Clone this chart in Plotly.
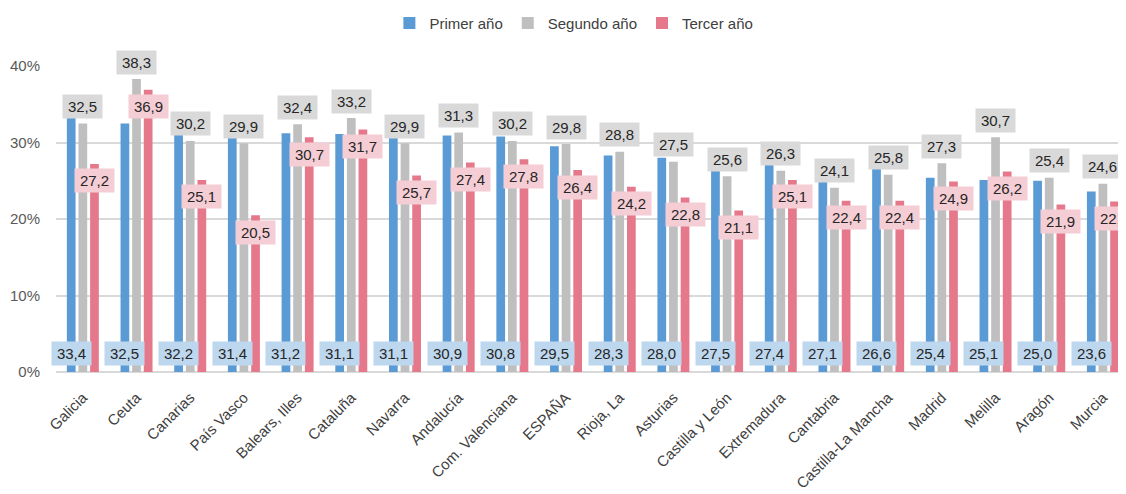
import plotly.graph_objects as go

categories = ["Galicia", "Ceuta", "Canarias", "País Vasco", "Balears, Illes", "Cataluña",
              "Navarra", "Andalucía", "Com. Valenciana", "ESPAÑA", "Rioja, La", "Asturias",
              "Castilla y León", "Extremadura", "Cantabria", "Castilla-La Mancha", "Madrid",
              "Melilla", "Aragón", "Murcia"]
primer = [33.4, 32.5, 32.2, 31.4, 31.2, 31.1, 31.1, 30.9, 30.8, 29.5,
          28.3, 28.0, 27.5, 27.4, 27.1, 26.6, 25.4, 25.1, 25.0, 23.6]
segundo = [32.5, 38.3, 30.2, 29.9, 32.4, 33.2, 29.9, 31.3, 30.2, 29.8,
           28.8, 27.5, 25.6, 26.3, 24.1, 25.8, 27.3, 30.7, 25.4, 24.6]
tercer = [27.2, 36.9, 25.1, 20.5, 30.7, 31.7, 25.7, 27.4, 27.8, 26.4,
          24.2, 22.8, 21.1, 25.1, 22.4, 22.4, 24.9, 26.2, 21.9, 22.3]
series_names = ["Primer año", "Segundo año", "Tercer año"]
y_ticks = [0, 10, 20, 30, 40]
y_tick_labels = ["0%", "10%", "20%", "30%", "40%"]

BLUE, GREY, PINK = "#5b9bd5", "#bfbfbf", "#e5798b"
BLUE_L, GREY_L, PINK_L = "#bdd7ee", "#d9d9d9", "#f5cdd5"
FONT = "Liberation Sans Narrow, Arial Narrow, Liberation Sans, Arial, sans-serif"
TXT = "#262626"

BARGAP = 0.35
BARGROUPGAP = 0.25
slot = (1 - BARGAP) / 3

fig = go.Figure()
for name, vals, col in zip(series_names, [primer, segundo, tercer], [BLUE, GREY, PINK]):
    fig.add_trace(go.Bar(x=categories, y=vals, name=name, marker_color=col,
                         marker_line_width=0))

def fmt(v):
    return f"{v:.1f}".replace(".", ",")

ann = []
for i in range(len(categories)):
    # Primer año: inside base
    ann.append(dict(x=i - slot, y=0, yshift=19, text=fmt(primer[i]), bgcolor=BLUE_L))
    # Segundo año: outside end
    ann.append(dict(x=i, y=segundo[i], yshift=17, text=fmt(segundo[i]), bgcolor=GREY_L))
    # Tercer año: inside end
    ann.append(dict(x=i + slot, y=tercer[i], yshift=-17, text=fmt(tercer[i]), bgcolor=PINK_L))
for a in ann:
    a.update(xref="x", yref="y", showarrow=False, xanchor="center", yanchor="middle",
             width=35, height=19, borderpad=2,
             font=dict(family=FONT, size=15, color=TXT))
    fig.add_annotation(**a)

fig.update_layout(
    width=1118, height=486,
    margin=dict(l=48, r=0, t=58, b=122, autoexpand=False),
    paper_bgcolor="white", plot_bgcolor="white",
    barmode="group", bargap=BARGAP, bargroupgap=BARGROUPGAP,
    font=dict(family=FONT, size=15, color="#404040"),
    showlegend=True,
    legend=dict(orientation="h", x=0.484, xanchor="center", y=1.14, yanchor="middle",
                font=dict(family=FONT, size=15, color="#404040"),
                traceorder="normal", itemclick=False),
    xaxis=dict(range=[-0.5, 19.43], tickangle=-45, showgrid=False, showline=False,
               zeroline=False, ticks="outside", ticklen=10, tickcolor="rgba(0,0,0,0)",
               tickfont=dict(family=FONT, size=15, color="#404040"), automargin=False),
    yaxis=dict(range=[0, 40], tickvals=y_ticks, ticktext=y_tick_labels,
               showgrid=True, gridcolor="#d9d9d9", gridwidth=2,
               zeroline=True, zerolinecolor="#d9d9d9", zerolinewidth=2,
               showline=False, ticks="outside", ticklen=12, tickcolor="rgba(0,0,0,0)",
               tickfont=dict(family=FONT, size=15, color="#595959"), automargin=False),
)

fig.write_html("out.html")
